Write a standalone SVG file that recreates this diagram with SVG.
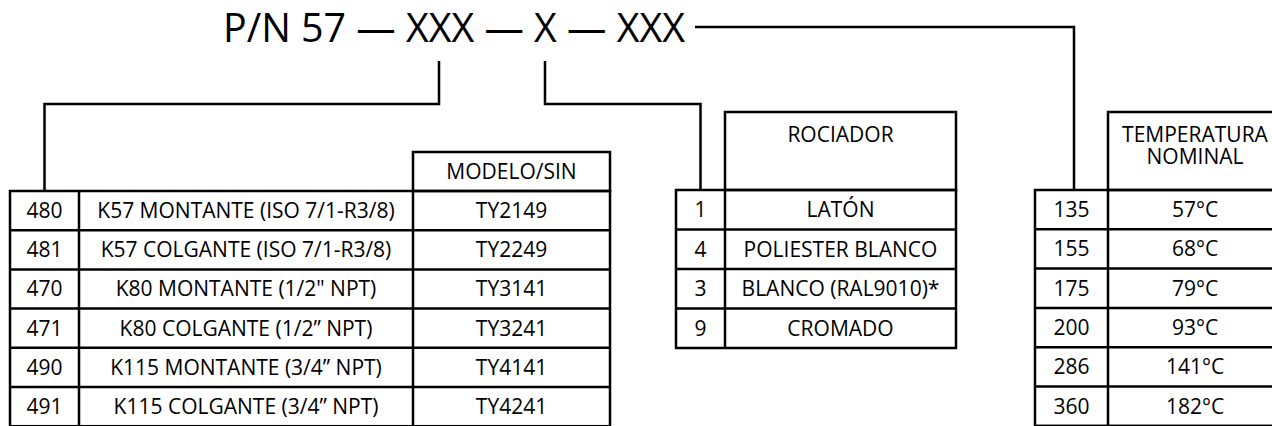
<svg xmlns="http://www.w3.org/2000/svg" width="1272" height="426" viewBox="0 0 1272 426">
<style>
.g{fill:none;stroke:#000;stroke-width:2.5}
.c{fill:none;stroke:#000;stroke-width:2.5;stroke-linejoin:miter}
text{font-family:"Open Sans","Noto Sans",sans-serif;fill:#000}
.t{font-size:21px;text-anchor:middle}
.h{font-size:41px}
</style>
<rect width="1272" height="426" fill="#fff"/>
<g id="title">
<text class="h" x="223" y="42" textLength="462" lengthAdjust="spacingAndGlyphs">P/N 57 — XXX — X — XXX</text>
</g>
<g id="connectors">
<polyline class="c" points="439,61 439,104 44.5,104 44.5,191"/>
<polyline class="c" points="545,61 545,104 700.5,104 700.5,190"/>
<polyline class="c" points="695,27 1074,27 1074,190"/>
</g>
<g id="table-modelo">
<rect class="g" x="413" y="152" width="197" height="39"/>
<rect class="g" x="10" y="191" width="600" height="235.2"/>
<path class="g" d="M10,230.2H610M10,269.4H610M10,308.6H610M10,347.8H610M10,387H610M79,191V426.2M413,191V426.2"/>
<text class="t" x="511.5" y="179">MODELO/SIN</text>
<text class="t" x="44.5" y="218">480</text><text class="t" x="246" y="218">K57 MONTANTE (ISO 7/1-R3/8)</text><text class="t" x="511.5" y="218">TY2149</text>
<text class="t" x="44.5" y="257.2">481</text><text class="t" x="246" y="257.2">K57 COLGANTE (ISO 7/1-R3/8)</text><text class="t" x="511.5" y="257.2">TY2249</text>
<text class="t" x="44.5" y="296.4">470</text><text class="t" x="246" y="296.4">K80 MONTANTE (1/2" NPT)</text><text class="t" x="511.5" y="296.4">TY3141</text>
<text class="t" x="44.5" y="335.6">471</text><text class="t" x="246" y="335.6">K80 COLGANTE (1/2” NPT)</text><text class="t" x="511.5" y="335.6">TY3241</text>
<text class="t" x="44.5" y="374.8">490</text><text class="t" x="246" y="374.8">K115 MONTANTE (3/4” NPT)</text><text class="t" x="511.5" y="374.8">TY4141</text>
<text class="t" x="44.5" y="414">491</text><text class="t" x="246" y="414">K115 COLGANTE (3/4” NPT)</text><text class="t" x="511.5" y="414">TY4241</text>
</g>
<g id="table-rociador">
<rect class="g" x="725" y="112" width="231" height="78"/>
<rect class="g" x="676" y="190" width="280" height="158"/>
<path class="g" d="M676,229.5H956M676,269H956M676,308.5H956M725,190V348"/>
<text class="t" x="840.5" y="141.5">ROCIADOR</text>
<text class="t" x="700.5" y="217.2">1</text><text class="t" x="840.5" y="217.2">LATÓN</text>
<text class="t" x="700.5" y="256.7">4</text><text class="t" x="840.5" y="256.7">POLIESTER BLANCO</text>
<text class="t" x="700.5" y="296.2">3</text><text class="t" x="840.5" y="296.2">BLANCO (RAL9010)*</text>
<text class="t" x="700.5" y="335.7">9</text><text class="t" x="840.5" y="335.7">CROMADO</text>
</g>
<g id="table-temperatura">
<rect class="g" x="1108" y="112" width="174" height="78"/>
<rect class="g" x="1035" y="190" width="247" height="235.8"/>
<path class="g" d="M1035,229.3H1282M1035,268.6H1282M1035,307.9H1282M1035,347.2H1282M1035,386.5H1282M1108,190V425.8"/>
<text class="t" x="1195" y="142"><tspan x="1195">TEMPERATURA</tspan><tspan x="1195" dy="22">NOMINAL</tspan></text>
<text class="t" x="1071.5" y="217.1">135</text><text class="t" x="1195" y="217.1">57°C</text>
<text class="t" x="1071.5" y="256.4">155</text><text class="t" x="1195" y="256.4">68°C</text>
<text class="t" x="1071.5" y="295.7">175</text><text class="t" x="1195" y="295.7">79°C</text>
<text class="t" x="1071.5" y="335">200</text><text class="t" x="1195" y="335">93°C</text>
<text class="t" x="1071.5" y="374.3">286</text><text class="t" x="1195" y="374.3">141°C</text>
<text class="t" x="1071.5" y="413.6">360</text><text class="t" x="1195" y="413.6">182°C</text>
</g>
</svg>
